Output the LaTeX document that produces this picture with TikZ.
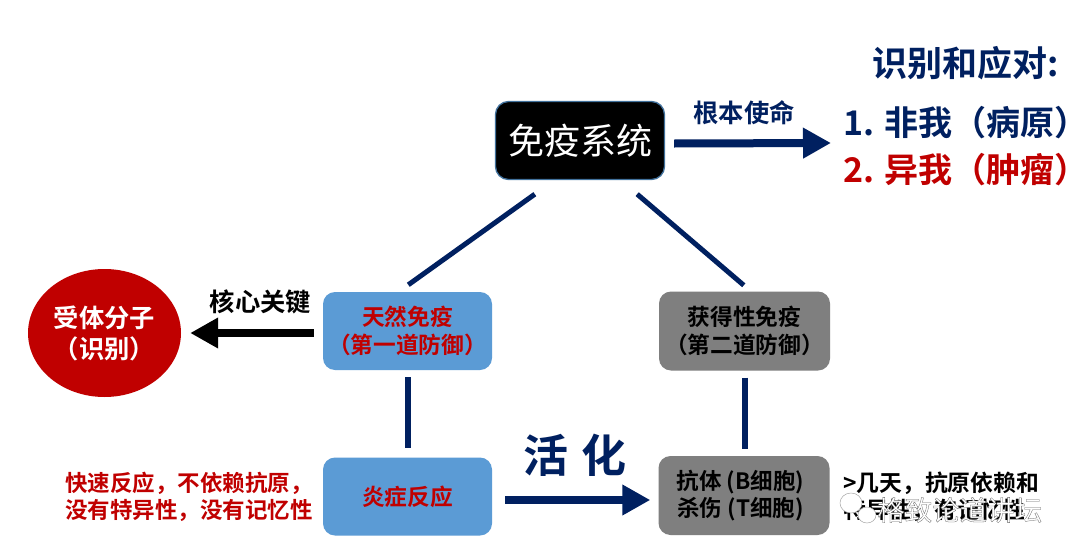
\documentclass[tikz,border=0pt]{standalone}
\usepackage{fontspec}
\setmainfont{Noto Sans CJK SC}[BoldFont=* Bold]
\newfontfamily\haltf{Noto Sans CJK SC}[BoldFont=* Bold,RawFeature=+halt]
\usetikzlibrary{arrows.meta,shapes.geometric}
\definecolor{navy}{HTML}{002060}
\definecolor{bluebox}{HTML}{5B9BD5}
\definecolor{greybox}{HTML}{7F7F7F}
\definecolor{redc}{HTML}{C00000}
\definecolor{steelb}{HTML}{41719C}
\newcommand{\fs}[1]{\fontsize{#1}{#1}\selectfont}
\newcommand{\fsl}[2]{\fontsize{#1}{#2}\selectfont}
\tikzset{
  box/.style={rounded corners=12pt,inner sep=0pt,align=center,font=\bfseries\fsl{22.7}{28}},
  bluenode/.style={box,fill=bluebox,text=redc,minimum width=169pt,minimum height=78pt},
  greynode/.style={box,fill=greybox,text=black,minimum width=171pt,minimum height=79pt},
  link/.style={draw=navy,line width=5pt},
  thickarrow/.style={line width=8pt,-{Triangle[length=28pt,width=29pt]}},
  lbl/.style={inner sep=0pt,align=left,font=\bfseries\fsl{22.5}{27}},
}
\begin{document}
\begin{tikzpicture}[x=1pt,y=-1pt]
\useasboundingbox (0,0) rectangle (1080,557);
\fill[white] (0,0) rectangle (1080,557);
% nodes
\node[rounded corners=13pt,fill=black,draw=steelb,line width=1.3pt,minimum width=169pt,minimum height=78pt,inner sep=0pt,text=white,font=\fs{36}] at (580,140.5) (sys) {免疫系统};
\node[bluenode] (inn) at (407.5,331) {天然免疫\\（第一道防御）};
\node[greynode] (acq) at (744.5,331) {获得性免疫\\（第二道防御）};
\node[bluenode] (inf) at (407.5,496.5) {炎症反应};
\node[greynode,font=\bfseries\fsl{22.5}{27}] (eff) at (744,495.5) {抗体 (B细胞)\rule{7pt}{0pt}\\杀伤 (T细胞)\rule{7pt}{0pt}};
\node[ellipse,fill=redc,text=white,minimum width=153pt,minimum height=128pt,inner sep=0pt,align=center,font=\bfseries\fsl{25.3}{31}] (rec) at (104.5,333) {受体分子\\（识别）};
\node[inner sep=0pt,text=navy,font=\bfseries\fs{35}] (goal) at (965.5,63) {识别和应对:};
\node[inner sep=0pt,anchor=west,text=navy,font=\bfseries\fs{34}] (non) at (843,123) {1. 非我（病原{\haltf ）}};
\node[inner sep=0pt,anchor=west,text=redc,font=\bfseries\fs{34}] (alt) at (843,170) {2. 异我（肿瘤{\haltf ）}};
\node[inner sep=0pt,text=navy,font=\bfseries\fs{25.3}] (mis) at (744,113) {根本使命};
\node[inner sep=0pt,text=black,font=\bfseries\fs{25.3}] (key) at (260.5,302) {核心关键};
\node[inner sep=0pt,text=navy,font=\bfseries\fs{45}] (act) at (575,455) {活\hspace{14pt}化};
\node[lbl,text=redc,anchor=west] (left) at (65,496.5) {快速反应，不依赖抗原，\\没有特异性，没有记忆性};
\node[lbl,text=black,anchor=west,font=\bfseries\fsl{22.8}{27}] (right) at (843,496.5) {>几天，抗原依赖和\\特异性，有记忆性};
% connectors
\draw[link] ([shift={(40,14)}]sys.south west) -- ([shift={(85.5,-7)}]inn.north west);
\draw[link] ([shift={(-28,14)}]sys.south east) -- ([shift={(85,-6)}]acq.north west);
\draw[link,line width=6pt] ([yshift=-7]inn.south) -- ([yshift=9]inf.north);
\draw[link,line width=6pt] ([yshift=-7]acq.south) -- ([xshift=.5,yshift=7]eff.north);
\draw[navy,thickarrow] ([shift={(9,3)}]sys.east) -- ([shift={(-12,20)}]non.west);
\draw[black,thickarrow] ([shift={(-9,2)}]inn.west) -- ([xshift=9]rec.east);
\draw[navy,thickarrow] ([shift={(13,3.5)}]inf.east) -- ([shift={(-8,4.5)}]eff.west);
% watermark
\fill[white,draw=gray!70,line width=.5pt] (851,503) ellipse (11 and 10);
\fill[white,draw=gray!70,line width=.5pt] (867,515) ellipse (9 and 8);
\node[inner sep=0pt,anchor=west,text=white,font=\fs{27.5}] (wm) at (877,510) {\special{pdf:literal 2 Tr 0.3 w 0.4 0.4 0.4 RG}格致论道讲坛\special{pdf:literal 0 Tr}};
\end{tikzpicture}
\end{document}
